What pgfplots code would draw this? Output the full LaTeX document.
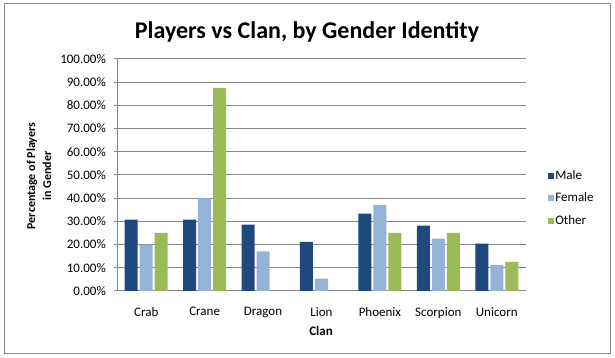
\documentclass[border=0pt]{standalone}
\usepackage{pgfplots}
\pgfplotsset{compat=1.18}
\usepackage{fontspec}
\setmainfont{Carlito}
\definecolor{male}{RGB}{31,73,125}
\definecolor{female}{RGB}{149,179,215}
\definecolor{other}{RGB}{155,187,89}
\definecolor{gridc}{RGB}{134,134,134}
\begin{document}
\begin{tikzpicture}[x=1pt,y=1pt]
\path (0,0) rectangle (615,358);
\draw[gridc, line width=1pt] (4.5,4) rectangle (610,354.5);
\node[font=\bfseries\fontsize{24}{28}\selectfont] at (307,326) {Players vs Clan, by Gender Identity};
\node[rotate=90, align=center, font=\bfseries\fontsize{12}{16}\selectfont] at (39,182) {Percentage of Players\\in Gender};
\node[font=\bfseries\fontsize{13}{15}\selectfont] at (321,27) {Clan};
\begin{axis}[
  at={(117pt,67pt)}, anchor=south west,
  scale only axis, width=409pt, height=232pt,
  xmin=-0.5, xmax=6.5, ymin=0, ymax=100,
  ybar, bar width=13pt,
  axis x line*=bottom, axis y line*=left,
  axis line style={gridc, line width=1pt},
  xtick={0,1,2,3,4,5,6},
  xticklabels={Crab,Crane,Dragon,Lion,Phoenix,Scorpion,Unicorn},
  x tick style={draw=none},
  extra x ticks={-0.5,0.5,1.5,2.5,3.5,4.5,5.5,6.5},
  extra x tick labels={},
  extra x tick style={major tick length=5pt, tick align=outside, tick style={draw=gridc, line width=1pt}, grid=none},
  ytick={0,10,...,100},
  yticklabels={0.00\%,10.00\%,20.00\%,30.00\%,40.00\%,50.00\%,60.00\%,70.00\%,80.00\%,90.00\%,100.00\%},
  y tick style={draw=gridc, line width=1pt},
  major tick length=3pt, tick align=outside,
  ymajorgrids, grid style={gridc, line width=1pt},
  tick label style={font=\fontsize{13}{15}\selectfont},
  /pgf/number format/assume math mode=true,
  yticklabel style={anchor=east, inner sep=0pt, xshift=-8pt},
  xticklabel style={anchor=north, inner sep=0pt, yshift=-13pt},
  legend style={at={(1.053,0.40)}, anchor=west, draw=none, fill=none, inner sep=0pt,
    font=\fontsize{13}{15}\selectfont, row sep=9pt,
    nodes={inner sep=1.5pt}},
  legend cell align=left,
  legend image code/.code={\fill[#1] (0pt,-3pt) rectangle (6pt,3pt);},
]
\addplot[fill=male, draw=none] coordinates {(0,30.8) (1,30.8) (2,28.6) (3,21.2) (4,33.3) (5,28.2) (6,20.4)};
\addplot[fill=female, draw=none] coordinates {(0,20.0) (1,40.0) (2,17.1) (3,5.3) (4,37.1) (5,22.6) (6,11.3)};
\addplot[fill=other, draw=none] coordinates {(0,25.0) (1,87.5) (4,25.0) (5,25.0) (6,12.5)};
\legend{Male,Female,Other}
\end{axis}
\end{tikzpicture}
\end{document}
